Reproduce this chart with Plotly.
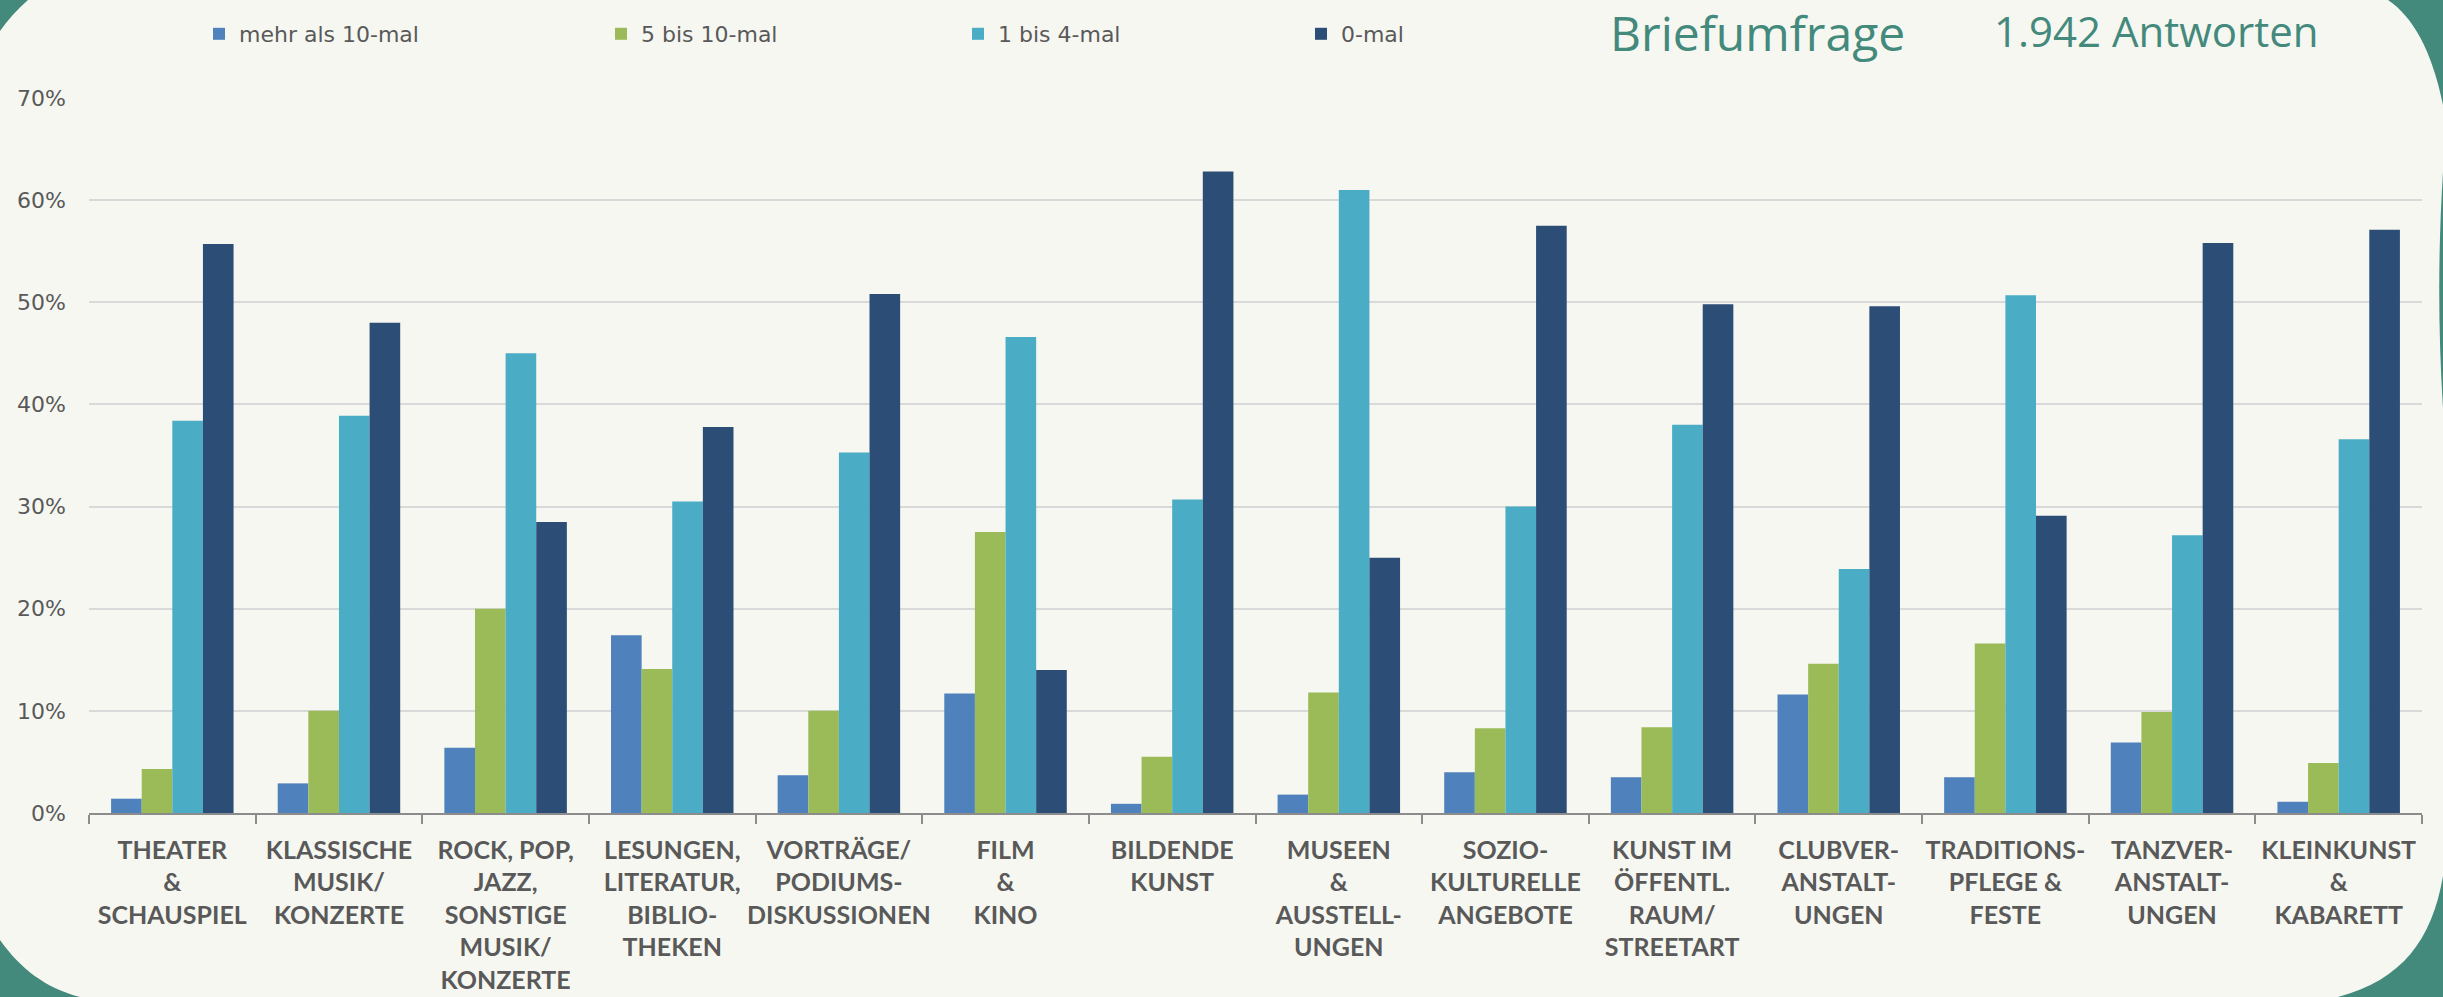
import plotly.graph_objects as go

categories = [
    "THEATER<br>&<br>SCHAUSPIEL",
    "KLASSISCHE<br>MUSIK/<br>KONZERTE",
    "ROCK, POP,<br>JAZZ,<br>SONSTIGE<br>MUSIK/<br>KONZERTE",
    "LESUNGEN,<br>LITERATUR,<br>BIBLIO-<br>THEKEN",
    "VORTRÄGE/<br>PODIUMS-<br>DISKUSSIONEN",
    "FILM<br>&<br>KINO",
    "BILDENDE<br>KUNST",
    "MUSEEN<br>&<br>AUSSTELL-<br>UNGEN",
    "SOZIO-<br>KULTURELLE<br>ANGEBOTE",
    "KUNST IM<br>ÖFFENTL.<br>RAUM/<br>STREETART",
    "CLUBVER-<br>ANSTALT-<br>UNGEN",
    "TRADITIONS-<br>PFLEGE &<br>FESTE",
    "TANZVER-<br>ANSTALT-<br>UNGEN",
    "KLEINKUNST<br>&<br>KABARETT",
]

series_names = ["mehr als 10-mal", "5 bis 10-mal", "1 bis 4-mal", "0-mal"]

mehr_als_10 = [1.4, 2.9, 6.4, 17.4, 3.7, 11.7, 0.9, 1.8, 4.0, 3.5, 11.6, 3.5, 6.9, 1.1]
fuenf_bis_10 = [4.3, 10.0, 20.0, 14.1, 10.0, 27.5, 5.5, 11.8, 8.3, 8.4, 14.6, 16.6, 9.9, 4.9]
eins_bis_4 = [38.4, 38.9, 45.0, 30.5, 35.3, 46.6, 30.7, 61.0, 30.0, 38.0, 23.9, 50.7, 27.2, 36.6]
null_mal = [55.7, 48.0, 28.5, 37.8, 50.8, 14.0, 62.8, 25.0, 57.5, 49.8, 49.6, 29.1, 55.8, 57.1]

colors = ["#4F81BD", "#9BBB59", "#4BACC6", "#2C4D75"]

W, H = 2443, 997
L, R, T, B = 89, 2422, 98, 813
TEAL = "#43897C"
BG = "#F6F7F1"
GREY = "#595959"


def px(x):
    return (x - L) / (R - L)


def py(y):
    return (B - y) / (B - T)


def pt(x, y):
    return f"{px(x):.5f},{py(y):.5f}"


fig = go.Figure()
legend_ids = ["legend", "legend2", "legend3", "legend4"]
for name, vals, col, lg in zip(series_names, [mehr_als_10, fuenf_bis_10, eins_bis_4, null_mal], colors, legend_ids):
    fig.add_trace(go.Bar(x=categories, y=vals, name=name, marker=dict(color=col, line=dict(width=0)),
                         legend=lg, hoverinfo="skip"))

# corner decoration shapes
shapes = []
paths = [
    f"M {pt(0,0)} L {pt(28,0)} Q {pt(12,14)} {pt(0,31)} Z",
    f"M {pt(2388,0)} C {pt(2412,16)} {pt(2432,50)} {pt(2443,105)} L {pt(2443,0)} Z",
    f"M {pt(2443,172)} C {pt(2438,250)} {pt(2438,330)} {pt(2443,408)} Z",
    f"M {pt(2443,876)} C {pt(2432,940)} {pt(2402,980)} {pt(2338,997)} L {pt(2443,997)} Z",
    f"M {pt(0,940)} C {pt(20,968)} {pt(45,988)} {pt(80,997)} L {pt(0,997)} Z",
]
for p in paths:
    shapes.append(dict(type="path", xref="paper", yref="paper", path=p,
                       fillcolor=TEAL, line=dict(width=0), layer="above"))

legend_text_starts = [239, 641, 998, 1341]
legend_common = dict(orientation="h", yanchor="middle", xanchor="left", y=py(34),
                     bgcolor="rgba(0,0,0,0)", font=dict(family="DejaVu Sans", size=22, color=GREY),
                     itemwidth=30)
lay_legends = {}
for lg, ts in zip(legend_ids, legend_text_starts):
    lay_legends[lg] = dict(legend_common, x=px(ts - 40))

fig.update_layout(
    width=W, height=H, autosize=False,
    margin=dict(l=L, r=W - R, t=T, b=H - B, pad=0, autoexpand=False),
    paper_bgcolor=BG, plot_bgcolor=BG,
    barmode="group", bargap=0.265, bargroupgap=0,
    showlegend=True,
    shapes=shapes,
    **lay_legends,
    annotations=[
        dict(text="Briefumfrage", xref="paper", yref="paper", x=px(1608), y=py(32),
             xanchor="left", yanchor="middle", showarrow=False,
             font=dict(family="Open Sans", size=48, color=TEAL)),
        dict(text="1.942 Antworten", xref="paper", yref="paper", x=px(1992), y=py(31),
             xanchor="left", yanchor="middle", showarrow=False,
             font=dict(family="Open Sans", size=42, color=TEAL)),
    ],
)

fig.update_xaxes(
    automargin=False,
    showline=True, linecolor="#8C8C8C", linewidth=1.5,
    ticks="outside", tickson="boundaries", ticklen=9, tickcolor="#8C8C8C", tickwidth=1.5,
    tickfont=dict(family="Lato", size=25, color=GREY, weight="bold"),
    tickangle=0, ticklabelstandoff=14, showgrid=False,
)
fig.update_yaxes(
    automargin=False,
    range=[0, 70], dtick=10, ticksuffix="%",
    showgrid=True, gridcolor="#D9D9D9", gridwidth=1.5,
    zeroline=False, showline=False,
    tickfont=dict(family="DejaVu Sans", size=22, color=GREY),
    ticklabelstandoff=22,
)

fig.write_html(
    "out.html",
    config=dict(displayModeBar=False),
    post_script="document.body.style.margin='0';document.body.style.overflow='hidden';"
                "document.documentElement.style.overflow='hidden';",
)
